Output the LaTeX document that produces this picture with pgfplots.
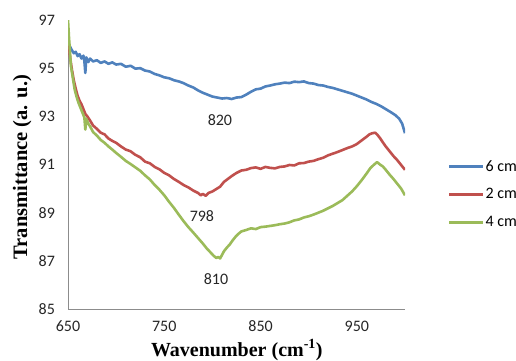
\documentclass[border=0pt]{standalone}
\usepackage{pgfplots}
\pgfplotsset{compat=1.18}
\usepackage{fontspec}
\setmainfont{Carlito}
\newfontfamily\serifb{Liberation Serif}
\definecolor{sblue}{HTML}{4F81BD}
\definecolor{sred}{HTML}{C0504D}
\definecolor{sgreen}{HTML}{9BBB59}
\begin{document}
\begin{tikzpicture}[x=1pt,y=1pt]
\useasboundingbox (0,0) rectangle (516,360);
\begin{axis}[
  at={(68pt,51pt)}, anchor=south west,
  width=337pt, height=289pt, scale only axis,
  xmin=650, xmax=1000, ymin=85, ymax=97,
  xtick={650,750,850,950}, ytick={85,87,89,91,93,95,97},
  axis x line*=bottom, axis y line*=left,
  axis line style={draw=black!45, line width=0.9pt, -},
  major tick length=0pt,
  tick label style={font=\fontsize{16}{18}\selectfont, text=black!85},
  /pgf/number format/assume math mode=true,
  xticklabel style={yshift=-8.5pt},
  yticklabel style={xshift=-9.5pt},
  xlabel={Wavenumber (cm\textsuperscript{-1})},
  ylabel={Transmittance (a. u.)},
  xlabel style={font=\serifb\bfseries\fontsize{20}{24}\selectfont, at={(axis description cs:0.501,-0.142)}, anchor=center},
  ylabel style={font=\serifb\bfseries\fontsize{20.5}{24}\selectfont, at={(axis description cs:-0.136,0.491)}, anchor=center},
  legend style={at={(axis description cs:1.1276,0.519)}, anchor=north west, draw=none, fill=none,
     font=\fontsize{16}{18}\selectfont, row sep=14pt, inner sep=0pt, nodes={inner sep=1pt}},
  legend image code/.code={\draw[#1, line width=2.5pt] (0pt,0pt) -- (34pt,0pt);},
  legend cell align=left,
  every axis plot/.append style={line width=2.6pt, line join=round},
]
\addplot[sblue] coordinates {
(650,96.10)(652,95.90)(654,95.75)(656,95.62)(658,95.68)(660,95.50)(662,95.58)(664,95.40)
(666,95.52)(667,95.30)(668,94.80)(669,95.45)(671,95.25)(673,95.40)(676,95.28)(680,95.33)
(684,95.22)(688,95.28)(692,95.18)(696,95.24)(700,95.15)(705,95.18)(710,95.06)(715,95.10)
(720,94.98)(725,95.00)(730,94.90)(735,94.86)(740,94.76)(745,94.70)(750,94.62)(755,94.58)
(760,94.50)(765,94.45)(770,94.38)(775,94.28)(780,94.20)(785,94.08)(790,93.98)(795,93.90)
(800,93.82)(805,93.78)(810,93.74)(815,93.76)(820,93.72)(825,93.78)(830,93.80)(835,93.90)
(840,94.02)(845,94.12)(850,94.15)(855,94.24)(860,94.28)(865,94.33)(870,94.36)(875,94.40)
(880,94.38)(885,94.44)(890,94.42)(895,94.45)(900,94.38)(905,94.36)(910,94.30)(915,94.28)
(920,94.22)(925,94.18)(930,94.12)(935,94.06)(940,94.00)(945,93.94)(950,93.86)(955,93.78)
(960,93.70)(965,93.60)(970,93.52)(975,93.42)(980,93.30)(985,93.18)(990,93.05)(994,92.90)
(997,92.70)(1000,92.30)};
\addlegendentry{6 cm}
\addplot[sred] coordinates {
(650,96.50)(651,95.90)(652,95.50)(654,94.95)(656,94.50)(658,94.15)(660,93.85)(662,93.65)
(664,93.50)(666,93.30)(668,93.10)(670,93.00)(673,92.82)(676,92.62)(680,92.48)(684,92.32)
(688,92.25)(692,92.08)(696,91.98)(700,91.90)(705,91.75)(710,91.62)(715,91.55)(720,91.40)
(725,91.30)(730,91.12)(735,91.05)(740,90.90)(745,90.80)(750,90.65)(755,90.55)(760,90.40)
(765,90.28)(770,90.15)(775,90.05)(780,89.92)(785,89.82)(788,89.72)(790,89.78)(793,89.70)
(796,89.82)(800,89.88)(804,89.98)(808,90.08)(812,90.28)(816,90.40)(820,90.52)(825,90.65)
(830,90.75)(835,90.78)(840,90.85)(845,90.88)(850,90.82)(855,90.90)(860,90.86)(865,90.84)
(870,90.90)(875,90.92)(880,90.98)(885,90.96)(890,91.05)(895,91.06)(900,91.12)(905,91.15)
(910,91.22)(915,91.28)(920,91.38)(925,91.45)(930,91.52)(935,91.60)(940,91.68)(945,91.75)
(950,91.85)(955,92.00)(960,92.15)(963,92.25)(966,92.30)(969,92.32)(971,92.25)(974,92.10)
(977,91.92)(980,91.75)(984,91.55)(988,91.35)(992,91.18)(996,90.98)(1000,90.78)};
\addlegendentry{2 cm}
\addplot[sgreen] coordinates {
(650,97.00)(651,96.30)(652,95.70)(653,95.10)(655,94.60)(657,94.10)(659,93.80)(661,93.55)
(663,93.35)(665,93.15)(667,92.95)(668,92.45)(669,92.90)(671,92.70)(673,92.58)(676,92.35)
(680,92.20)(684,92.02)(688,91.90)(692,91.75)(696,91.62)(700,91.48)(705,91.32)(710,91.15)
(715,91.02)(720,90.88)(725,90.74)(730,90.55)(735,90.38)(740,90.15)(745,89.95)(750,89.72)
(755,89.45)(760,89.20)(765,88.92)(770,88.65)(775,88.40)(780,88.18)(785,87.95)(790,87.72)
(794,87.52)(798,87.35)(801,87.22)(804,87.12)(806,87.16)(808,87.10)(810,87.25)(812,87.40)
(815,87.55)(818,87.68)(821,87.85)(824,88.00)(827,88.12)(830,88.22)(835,88.28)(840,88.35)
(845,88.32)(850,88.40)(855,88.42)(860,88.45)(865,88.48)(870,88.52)(875,88.55)(880,88.60)
(885,88.68)(890,88.72)(895,88.80)(900,88.85)(905,88.92)(910,89.00)(915,89.08)(920,89.18)
(925,89.28)(930,89.40)(935,89.52)(940,89.70)(945,89.88)(950,90.10)(955,90.35)(960,90.62)
(964,90.85)(968,91.00)(971,91.10)(974,91.00)(977,90.92)(980,90.78)(984,90.58)(988,90.40)
(992,90.20)(996,90.00)(1000,89.72)};
\addlegendentry{4 cm}
\node[font=\fontsize{16}{18}\selectfont, text=black!85] at (axis cs:807.8,92.85) {820};
\node[font=\fontsize{16}{18}\selectfont, text=black!85] at (axis cs:789.1,88.86) {798};
\node[font=\fontsize{16}{18}\selectfont, text=black!85] at (axis cs:803.7,86.24) {810};
\end{axis}
\end{tikzpicture}
\end{document}
